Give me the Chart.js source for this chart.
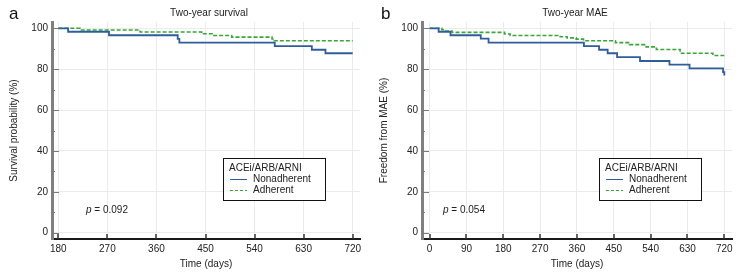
<!DOCTYPE html>
<html>
<head>
<meta charset="utf-8">
<script src="https://cdn.jsdelivr.net/npm/chart.js@4.4.1/dist/chart.umd.min.js"></script>
<style>
body{margin:0;background:#fff;}
#wrap{position:relative;width:741px;height:277px;}
#wrap canvas{position:absolute;top:0;}
</style>
</head>
<body>
<div id="wrap">
<canvas id="chartA" width="370" height="277" style="left:0"></canvas>
<canvas id="chartB" width="371" height="277" style="left:370px"></canvas>
</div>
<script>
// panel a - two-year survival (from day 180)
var survTicks = [180, 270, 360, 450, 540, 630, 720];
var survNonDays = [180, 198, 273, 399, 402, 577, 645, 670, 720];
var survNonPct  = [100, 98.3, 96.6, 94.8, 93.0, 91.3, 89.5, 87.8, 87.8];
var survAdhDays = [180, 220, 330, 443, 464, 498, 572, 576, 720];
var survAdhPct  = [100, 99.2, 98.2, 97.3, 96.5, 95.7, 94.8, 93.9, 93.9];

// panel b - two-year MAE
var maeTicks = [0, 90, 180, 270, 360, 450, 540, 630, 720];
var maeNonDays = [0, 22, 51, 125, 144, 377, 414, 435, 458, 514, 586, 635, 717, 720];
var maeNonPct  = [100, 98.3, 96.6, 94.9, 93.0, 91.3, 89.5, 87.8, 85.9, 84.0, 82.2, 80.4, 78.6, 76.9];
var maeAdhDays = [0, 30, 38, 55, 183, 197, 319, 336, 358, 376, 454, 488, 529, 554, 612, 692, 720];
var maeAdhPct  = [100, 99.3, 98.7, 98.0, 97.2, 96.5, 95.9, 95.3, 94.7, 93.9, 93.0, 92.0, 90.9, 89.6, 87.8, 86.7, 86.7];

var yTicks = [0, 20, 40, 60, 80, 100];
var groupLabels = ['Nonadherent', 'Adherent'];
var legendTitle = 'ACEi/ARB/ARNI';

var FONT = "'Liberation Sans', Arial, sans-serif";
var BLUE = '#2f5d9c';
var GREEN = '#3aa63a';

Chart.defaults.font.family = FONT;
Chart.defaults.font.size = 10;
Chart.defaults.color = '#222';

function pts(days, pct) {
	return days.map(function (d, i) { return {x: d, y: pct[i]}; });
}

var panelText = {
	id: 'panelText',
	afterDraw: function (chart) {
		var o = chart.options.plugins.panelText;
		var ctx = chart.ctx, a = chart.chartArea;
		var xs = chart.scales.x, ys = chart.scales.y;
		ctx.save();

		// inward ticks on x axis
		ctx.strokeStyle = '#333';
		ctx.lineWidth = 1.5;
		xs.ticks.forEach(function (t) {
			var px = Math.round(xs.getPixelForValue(t.value));
			ctx.beginPath();
			ctx.moveTo(px, a.bottom);
			ctx.lineTo(px, a.bottom - 5);
			ctx.stroke();
		});
		// inward ticks on y axis (major + minor)
		ctx.strokeStyle = '#7a7a7a';
		ctx.lineWidth = 1;
		for (var v = 0; v <= 100; v += 10) {
			var py = Math.round(ys.getPixelForValue(v)) + 0.5;
			ctx.beginPath();
			ctx.moveTo(a.left, py);
			ctx.lineTo(a.left + (v % 20 === 0 ? 7 : 3), py);
			ctx.stroke();
		}

		// panel letter
		ctx.fillStyle = '#111';
		ctx.font = '17px ' + FONT;
		ctx.textAlign = 'left';
		ctx.textBaseline = 'middle';
		ctx.fillText(o.letter, o.letterX, 14);

		// title
		ctx.font = '10px ' + FONT;
		ctx.textAlign = 'center';
		ctx.fillStyle = '#222';
		ctx.fillText(o.title, o.titleX, 13);

		// p value
		ctx.textAlign = 'left';
		ctx.font = 'italic 10px ' + FONT;
		ctx.fillText('p', o.pX, 210);
		var w = ctx.measureText('p').width;
		ctx.font = '10px ' + FONT;
		ctx.fillText(' = ' + o.p, o.pX + w, 210);

		// legend box
		var L = o.legend;
		ctx.fillStyle = '#fff';
		ctx.fillRect(L.x, L.y, L.w, L.h);
		ctx.strokeStyle = '#111';
		ctx.lineWidth = 1;
		ctx.strokeRect(L.x + 0.5, L.y + 0.5, L.w, L.h);
		ctx.fillStyle = '#222';
		ctx.fillText(legendTitle, L.x + 6, L.y + 10);
		var cols = [BLUE, GREEN];
		for (var i = 0; i < groupLabels.length; i++) {
			var yy = L.y + 21 + i * 11;
			ctx.strokeStyle = cols[i];
			ctx.setLineDash(i === 1 ? [3, 2] : []);
			ctx.beginPath();
			ctx.moveTo(L.x + 7, yy + 0.5);
			ctx.lineTo(L.x + 24, yy + 0.5);
			ctx.stroke();
			ctx.setLineDash([]);
			ctx.fillText(groupLabels[i], L.x + 30, yy);
		}
		ctx.restore();
	}
};

function km(id, cfg) {
	new Chart(document.getElementById(id), {
		type: 'line',
		data: {
			datasets: [
				{
					label: groupLabels[0],
					data: pts(cfg.nonDays, cfg.nonPct),
					borderColor: BLUE,
					borderWidth: 1.8,
					stepped: true,
					pointRadius: 0,
					fill: false
				},
				{
					label: groupLabels[1],
					data: pts(cfg.adhDays, cfg.adhPct),
					borderColor: GREEN,
					borderWidth: 1.6,
					borderDash: [4, 2],
					stepped: true,
					pointRadius: 0,
					fill: false
				}
			]
		},
		options: {
			responsive: false,
			animation: false,
			devicePixelRatio: 1,
			layout: {padding: {top: 22, right: cfg.padRight, left: 0, bottom: 0}},
			plugins: {
				legend: {display: false},
				tooltip: {enabled: false},
				panelText: cfg.text
			},
			scales: {
				x: {
					type: 'linear',
					min: cfg.xMin,
					max: cfg.xMax,
					afterBuildTicks: function (s) { s.ticks = cfg.ticks.map(function (v) { return {value: v}; }); },
					afterFit: function (s) { s.height = 38; },
					grid: {color: '#ebebeb', drawTicks: false},
					border: {color: '#1a1a1a', width: 2},
					ticks: {padding: 4, maxRotation: 0, autoSkip: false, color: '#222'},
					title: {display: true, text: 'Time (days)', padding: {top: 0, bottom: 7}, color: '#222'}
				},
				y: {
					min: -3.08,
					max: 103.08,
					afterBuildTicks: function (s) { s.ticks = yTicks.map(function (v) { return {value: v}; }); },
					afterFit: function (s) { s.width = 52; },
					grid: {color: '#ebebeb', drawTicks: false},
					border: {color: '#808080', width: 3},
					ticks: {padding: 4, color: '#222'},
					title: {display: true, text: cfg.yTitle, padding: {top: 8, bottom: 0}, color: '#222'}
				}
			}
		},
		plugins: [panelText]
	});
}

km('chartA', {
	nonDays: survNonDays, nonPct: survNonPct,
	adhDays: survAdhDays, adhPct: survAdhPct,
	ticks: survTicks, xMin: 168.45, xMax: 733.35, padRight: 10,
	yTitle: 'Survival probability (%)',
	text: {letter: 'a', letterX: 9, title: 'Two-year survival', titleX: 209, p: '0.092', pX: 86,
		legend: {x: 223, y: 158, w: 102, h: 42}}
});

km('chartB', {
	nonDays: maeNonDays, nonPct: maeNonPct,
	adhDays: maeAdhDays, adhPct: maeAdhPct,
	ticks: maeTicks, xMin: -18.6, xMax: 738.8, padRight: 9,
	yTitle: 'Freedom from MAE (%)',
	text: {letter: 'b', letterX: 11, title: 'Two-year MAE', titleX: 205, p: '0.054', pX: 73,
		legend: {x: 229, y: 158, w: 102, h: 42}}
});
</script>
</body>
</html>
